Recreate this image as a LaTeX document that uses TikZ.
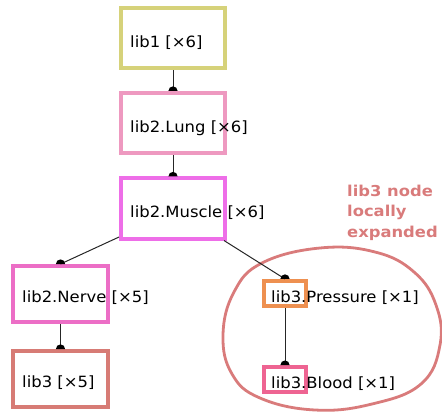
\documentclass[tikz,border=0pt]{standalone}
\usepackage{fontspec}
\setmainfont[FakeStretch=1.06]{DejaVu Sans}
\newfontfamily\labelfont[FakeStretch=1.09]{DejaVu Sans Bold}
\definecolor{cLibOne}{HTML}{D6D27A}
\definecolor{cLung}{HTML}{EE99C0}
\definecolor{cMuscle}{HTML}{EE6EE8}
\definecolor{cNerve}{HTML}{EC6EC6}
\definecolor{cLibThree}{HTML}{D77B75}
\definecolor{cPressure}{HTML}{EE9050}
\definecolor{cBlood}{HTML}{EE6492}
\definecolor{cExpand}{HTML}{D97B7B}
\tikzset{
  libbox/.style={draw=#1, line width=3.8pt, fill=white, inner sep=0pt,
    minimum width=104.3pt, minimum height=60.3pt},
  smallbox/.style={draw=#1, line width=3.8pt, inner sep=0pt,
    minimum width=95.2pt, minimum height=56.2pt},
  tinybox/.style={draw=#1, line width=3.8pt, inner sep=0pt,
    minimum width=41.9pt, minimum height=25.1pt},
  libtext/.style={anchor=base west, inner sep=0pt, text=black,
    font=\fontsize{15.5}{18}\selectfont},
  edge/.style={draw=black!85, line width=1pt},
}
% half-disc marker sitting on the top edge of a child box
\newcommand\topcap[1]{\fill[black] ($(#1.north)+(-4.6pt,0)$) arc[start angle=180, end angle=0, radius=4.6pt] -- cycle;}
\usetikzlibrary{calc}
\begin{document}
\begin{tikzpicture}[x=1pt,y=1pt]
\useasboundingbox (0,0) rectangle (442,-412);

% boxes
\node[libbox=cLibOne]   (lib1)   at (173,-38)   {};
\node[libbox=cLung]     (lung)   at (173,-123)  {};
\node[libbox=cMuscle]   (muscle) at (173,-208.5){};
\node[smallbox=cNerve]  (nerve)  at (60.5,-294) {};
\node[smallbox=cLibThree] (lib3) at (60.5,-379) {};

% expanded lib3 region
\draw[cExpand, line width=2.8pt] plot[smooth cycle, tension=0.7] coordinates {
  (223,-335) (234,-292) (262,-263) (320,-248) (375,-252) (414,-272)
  (436,-305) (440,-345) (421,-384) (372,-404) (315,-410) (260,-398) (232,-374)};
\node[tinybox=cPressure] (press) at (285,-293.4) {};
\node[tinybox=cBlood]    (blood) at (285,-379.5) {};

% connectors
\draw[edge] (lib1.south) -- (lung.north);
\draw[edge] (lung.south) -- (muscle.north);
\draw[edge] ($(muscle.south west)+(0,3.5)$) -- (nerve.north);
\draw[edge] ($(muscle.south east)+(-3,0)$) -- (press.north);
\draw[edge] (nerve.south) -- (lib3.north);
\draw[edge] (press.south) -- (blood.north);
\topcap{lung}
\topcap{muscle}
\topcap{nerve}
\topcap{lib3}
\topcap{press}
\topcap{blood}

% labels
\node[libtext] (t1) at (130,-48)    {lib1 [×6]};
\node[libtext] (t2) at (130,-132)   {lib2.Lung [×6]};
\node[libtext] (t3) at (130,-217)   {lib2.Muscle [×6]};
\node[libtext] (t4) at (22,-302)    {lib2.Nerve [×5]};
\node[libtext] (t5) at (22,-387.5)  {lib3 [×5]};
\node[libtext] (t6) at (271,-302.5) {lib3.Pressure [×1]};
\node[libtext] (t7) at (271,-388.3) {lib3.Blood [×1]};

\node[anchor=north west, inner sep=0pt, align=left, text=cExpand,
  font=\labelfont\fontsize{15}{20.5}\selectfont] (note) at (347,-184.5)
  {lib3 node\\locally\\expanded};
\end{tikzpicture}
\end{document}
